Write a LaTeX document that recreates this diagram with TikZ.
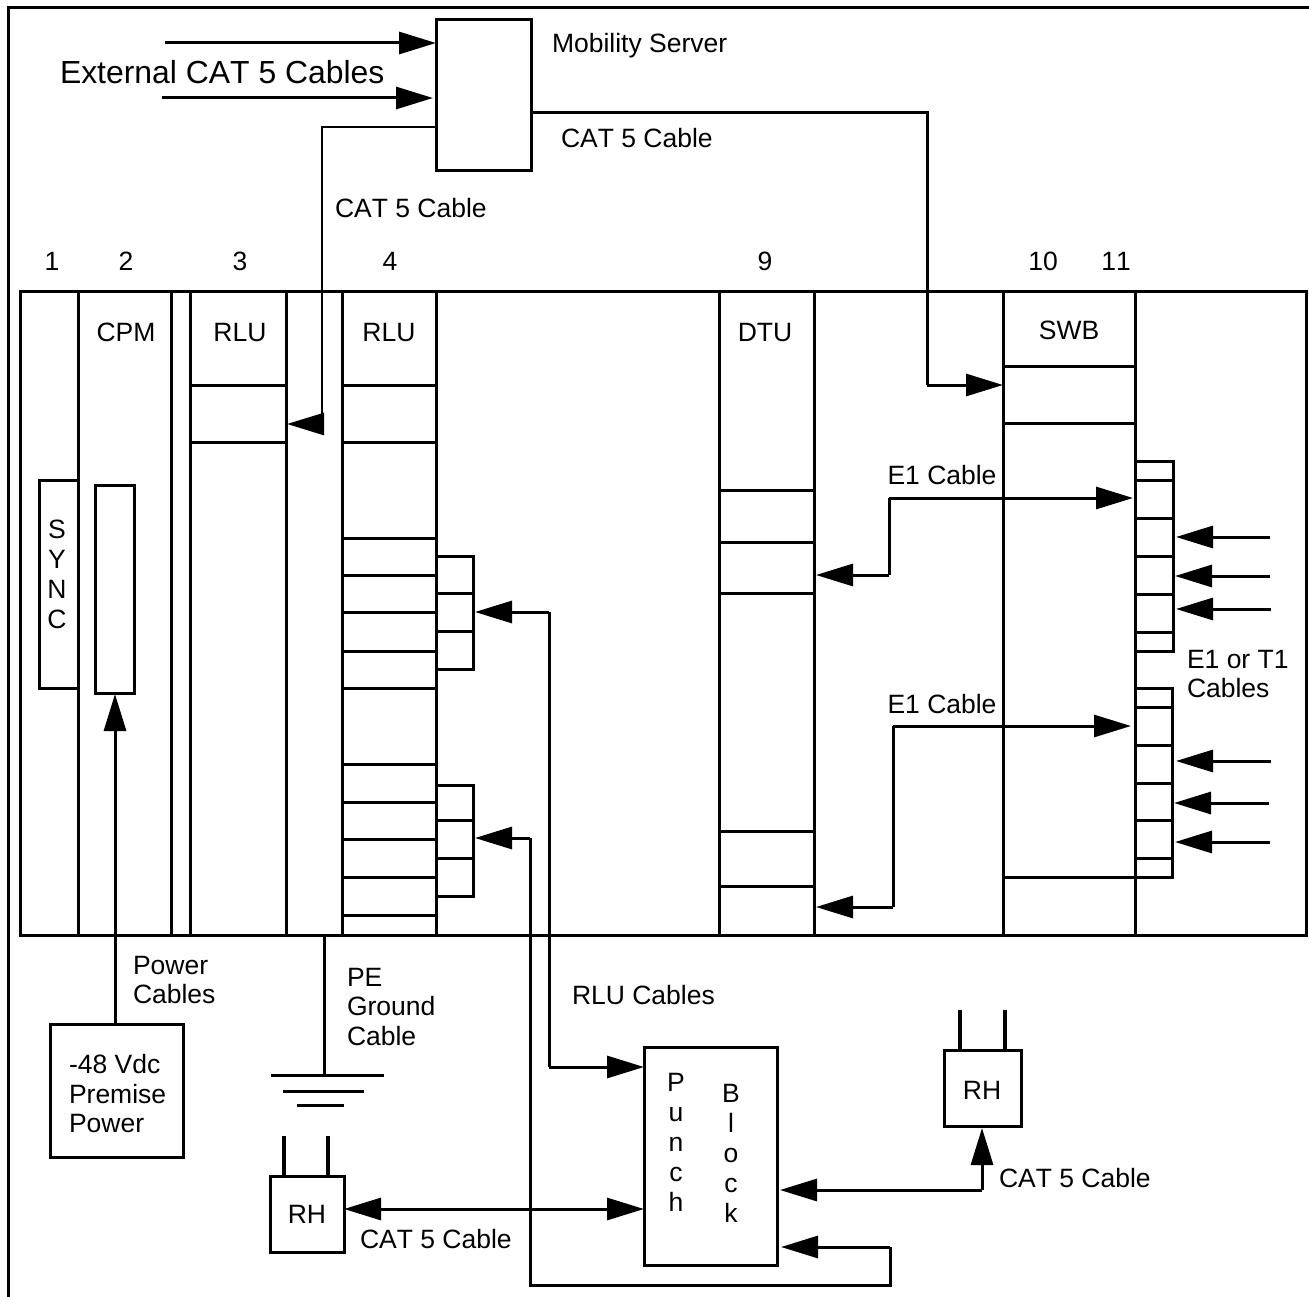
\documentclass[tikz,border=0pt]{standalone}
\usepackage{fontspec}
\setmainfont[Kerning=Off]{Liberation Sans}
\usetikzlibrary{arrows.meta}
\newcommand{\bx}[6][]{%
  \pgfmathsetmacro{\bw}{#5-#3}\pgfmathsetmacro{\bh}{#6-#4}%
  \pgfmathsetmacro{\cx}{(#5+#3)/2}\pgfmathsetmacro{\cy}{(#6+#4)/2}%
  \node[boxn,minimum width=\bw pt,minimum height=\bh pt,#1] (#2) at (\cx,\cy) {};}
\tikzset{
  x=1pt,y=-1pt,
  boxn/.style={draw,inner sep=0pt,outer sep=0pt,line width=3pt,fill=none},
  wire/.style={line width=3pt},
  arr/.style={line width=3pt,-{Triangle[length=37pt,width=22pt]}},
  darr/.style={line width=3pt,{Triangle[length=37pt,width=22pt]}-{Triangle[length=37pt,width=22pt]}},
  lab/.style={inner sep=0pt,outer sep=0pt,font=\fontsize{26.5}{29.5}\selectfont,text height=19pt,text depth=0pt},
  labm/.style={inner sep=0pt,outer sep=0pt,font=\fontsize{26.5}{29.5}\selectfont,align=left,anchor=west},
  labv/.style={inner sep=0pt,outer sep=0pt,font=\fontsize{26.5}{30}\selectfont,align=center},
  prong/.style={line width=4.5pt},
}
\begin{document}
\begin{tikzpicture}
\useasboundingbox (0,0) rectangle (1309,1297);
% outer frame
\coordinate (fbl) at (8,1297);
\coordinate (ftl) at (8,8);
\coordinate (ftr) at (1309,8);
\draw[line width=3pt] (fbl) -- (ftl) -- (ftr);
% chassis
\bx{chassis}{20}{292}{1306}{935}
\foreach \X in {78,171,190,286,342,436,719,814,1003,1135}
  \draw[wire] (\X,292) -- (\X,935);
\foreach \Y in {385,442} \draw[wire] (190,\Y) -- (286,\Y);
\foreach \Y in {385,442,538,575,612,651,688,764,802,839,877,915} \draw[wire] (342,\Y) -- (436,\Y);
\foreach \Y in {490,542,593,831,886} \draw[wire] (719,\Y) -- (814,\Y);
\foreach \Y in {366,423,877} \draw[wire] (1003,\Y) -- (1135,\Y);
% boxes
\bx{ms}{436}{20}{531}{171}
\bx[fill=white]{sync}{39}{480}{78}{688}
\bx[fill=white]{cpmbar}{95}{485}{134}{693}
\bx{slotc}{190}{385}{286}{442}
\bx{slotb}{1003}{366}{1135}{423}
\bx{punch}{644}{1047}{777}{1265}
\bx{rha}{270}{1176}{344}{1252}
\bx{rhb}{944}{1050}{1021}{1126}
\bx{pwr}{50}{1024}{183}{1157}
% small connectors
\bx{cona}{436}{556}{473}{669}
\foreach \Y in {593,631} \draw[wire] (436,\Y) -- (475,\Y);
\bx{conb}{436}{785}{473}{896}
\foreach \Y in {820,858} \draw[wire] (436,\Y) -- (475,\Y);
\bx{conc}{1135}{461}{1173}{651}
\foreach \Y in {480,518,556,594,632} \draw[wire] (1135,\Y) -- (1173,\Y);
\bx{cond}{1135}{688}{1172}{877}
\foreach \Y in {707,745,783,820,858} \draw[wire] (1135,\Y) -- (1174,\Y);
% text
\node[lab,anchor=west] (tmob) at (552,43) {Mobility Server};
\node[lab,anchor=west,font=\fontsize{31.9}{36}\selectfont] (text) at (60,74) {External CAT 5 Cables};
\node[lab,anchor=west] (tcata) at (561,138) {CAT 5 Cable};
\node[lab,anchor=west] (tcatb) at (335,208) {CAT 5 Cable};
\node[lab] (n1) at (52,261) {1};
\node[lab] (n2) at (126,261) {2};
\node[lab] (n3) at (240,261) {3};
\node[lab] (n4) at (390,261) {4};
\node[lab] (n9) at (765,261) {9};
\node[lab] (n10) at (1043,261) {10};
\node[lab] (n11) at (1116,261) {11};
\node[lab] (tcpm) at (126,332) {CPM};
\node[lab] (trlua) at (240,332) {RLU};
\node[lab] (trlub) at (389,332) {RLU};
\node[lab] (tdtu) at (765,332) {DTU};
\node[lab] (tswb) at (1069,330) {SWB};
\node[labv] (tsync) at (57,574) {S\\Y\\N\\C};
\node[lab] (te1a) at (942,475) {E1 Cable};
\node[lab] (te1b) at (942,704) {E1 Cable};
\node[labm] (tet) at (1187,674) {E1 or T1\\Cables};
\node[labm] (tpc) at (133,980) {Power\\Cables};
\node[labm] (tpe) at (347,1007) {PE\\Ground\\Cable};
\node[lab,anchor=west] (trc) at (572,995) {RLU Cables};
\node[labm] (tpw) at (69,1094) {-48 Vdc\\Premise\\Power};
\node[labv] (tp) at (676,1142) {P\\u\\n\\c\\h};
\node[labv] (tb) at (731,1153) {B\\l\\o\\c\\k};
\node[lab] (trha) at (307,1214) {RH};
\node[lab] (trhb) at (982,1090) {RH};
\node[lab,anchor=west] (tcc) at (360,1239) {CAT 5 Cable};
\node[lab,anchor=west] (tcd) at (999,1178) {CAT 5 Cable};
% external arrows
\coordinate (ea) at (165,43);
\coordinate (eb) at (162,98);
\draw[arr] (ea) -- (ea -| ms.west);
\draw[arr] (eb) -- ([xshift=-3pt]eb -| ms.west);
% CAT 5 from mobility server
\coordinate (wa) at (436,127);
\coordinate (wb) at (322,127);
\coordinate (wf) at (322,424);
\draw[line width=2.5pt] (wa) -- (wb) -- (wf);
\draw[arr,line width=2.5pt] (wf) -- (287,424);
\coordinate (wc) at (531,113);
\coordinate (wd) at (927,113);
\coordinate (we) at (927,385);
\draw[wire] (wc) -- (wd) -- (we);
\draw[arr] (we) -- (we -| slotb.west);
% E1
\coordinate (fa) at (889,498);
\coordinate (fb) at (889,575);
\draw[arr] (fa) -- (1133,498);
\draw[wire] (fa) -- (fb);
\draw[arr] (fb) -- (816,575);
\coordinate (ga) at (893,726);
\coordinate (gb) at (893,907);
\draw[arr] (ga) -- (1131,726);
\draw[wire] (ga) -- (gb);
\draw[arr] (gb) -- (816,907);
% E1/T1 inputs
\foreach \A/\B/\Y in {1270/1176/537,1270/1175/576,1271/1176/609,1271/1176/761,1269/1174/803,1270/1175/842}
  \draw[arr] (\A,\Y) -- (\B,\Y);
% RLU cables
\coordinate (ha) at (549,612);
\coordinate (hb) at (549,1067);
\draw[wire] (ha) -- (hb);
\draw[arr] (ha) -- (475,612);
\draw[arr] (hb) -- (hb -| punch.west);
\coordinate (ia) at (530,838);
\coordinate (ib) at (530,1285);
\coordinate (ic) at (890,1285);
\coordinate (id) at (890,1247);
\draw[wire] (ia) -- (ib) -- (ic) -- (id);
\draw[arr] (ia) -- (475,838);
\draw[arr] (id) -- (781,1247);
% punch block to RH
\draw[darr] (rha.east |- 0,1209) -- (punch.west |- 0,1209);
\coordinate (ja) at (982,1190);
\draw[arr] (ja) -- (780,1190);
\draw[arr] (ja) -- (982,1128);
% prongs
\foreach \X in {284,328} \draw[prong] (\X,1136) -- (\X,1176);
\foreach \X in {960,1005} \draw[prong] (\X,1010) -- (\X,1050);
% power
\draw[arr] (115,1024) -- (115,694);
% ground
\coordinate (ka) at (324,935);
\coordinate (kb) at (324,1075);
\draw[wire] (ka) -- (kb);
\draw[wire] (271,1075) -- (384,1075);
\draw[wire] (283,1091) -- (364,1091);
\draw[wire] (297,1105) -- (344,1105);
\end{tikzpicture}
\end{document}
